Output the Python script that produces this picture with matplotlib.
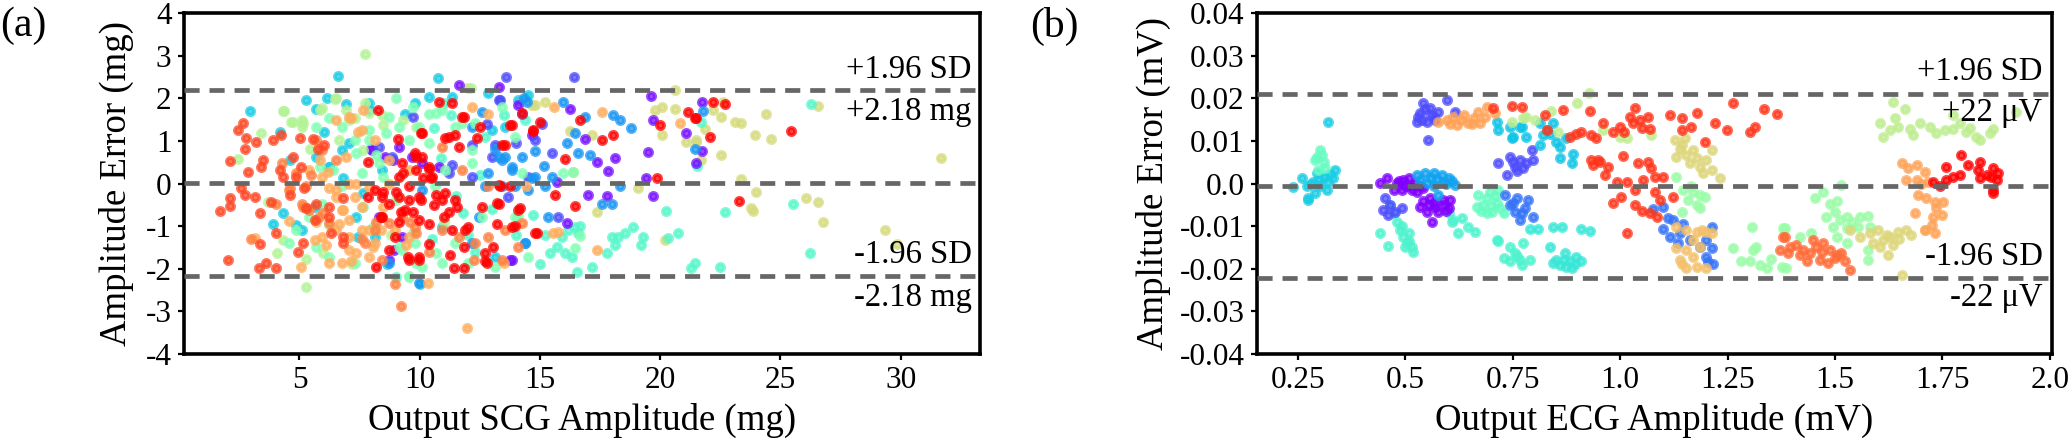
import matplotlib
matplotlib.use("Agg")
import matplotlib.pyplot as plt

plt.rcParams['font.family'] = 'serif'
plt.rcParams['font.serif'] = ['Liberation Serif', 'DejaVu Serif']

# ---------------- panel (a): SCG amplitude error (mg), one list per subject colour
a_violet = [(11.64,2.31),(13.28,2.26),(19.64,2.05),(14.11,1.84),(16.25,1.74),(14.66,1.14),(16.88,1.04),
            (18.12,0.61),(17.36,0.51),(19.50,0.75),(17.84,0.30),(17.01,-0.27),(17.77,-0.29),(19.71,-0.29),
            (19.43,0.12),(15.70,0.04),(16.11,-0.92),(13.76,-1.80),(21.09,1.19),(19.71,1.49),(21.74,1.92),
            (21.74,0.77),(21.51,0.47),(8.71,-1.80),(8.92,-1.56),(7.98,0.82),(8.88,0.55),(10.82,0.39),(13.83,-1.80),
            (8.02,0.79),(8.57,0.63),(9.13,0.86),(9.68,0.63),(10.10,0.48),(9.27,-1.25),(8.30,-0.78)]
a_indigo = [(13.60,2.51),(16.43,2.51),(13.35,1.97),(15.77,-0.78),(12.17,0.90),(11.34,0.43),(13.00,0.63),
            (15.49,0.71),(8.85,0.63),(8.30,0.86),(9.71,1.57),(12.17,0.16),(11.20,0.24),(13.69,-0.31),
            (14.80,1.02),(14.52,0.16),(13.14,0.90),(13.28,1.96),(14.25,1.64),(12.80,1.40),(15.10,1.40),(14.00,0.95)]
a_blue = [(14.32,2.01),(14.45,1.92),(15.98,1.92),(16.88,1.57),(18.05,1.61),(18.33,1.50),(18.78,1.31),
          (16.46,1.18),(16.11,0.96),(16.60,0.72),(17.08,0.68),(14.80,0.76),(15.15,0.41),(15.49,0.16),
          (13.83,0.32),(14.66,0.12),(13.97,-0.07),(15.22,-0.07),(17.57,-0.48),(17.98,-0.48),(18.33,-0.06),
          (15.35,-0.78),(12.86,0.24),(13.42,0.55),(12.45,-0.78),(14.39,-1.39),(13.56,0.63),(13.14,0.82),
          (12.17,1.33),(12.59,1.68),(21.78,1.70),(21.46,0.82),(9.96,-2.34),(8.71,-1.87),(13.28,0.63),
          (13.83,0.39),(14.25,0.63),(14.80,0.16),(12.72,-0.07),(13.42,-0.07),(14.52,-0.15),(10.10,-0.15),
          (12.17,-1.40),(14.38,-1.40)]
a_cyan = [(6.60,2.52),(2.93,1.71),(5.26,1.96),(6.14,2.00),(6.94,1.86),(4.18,1.21),(6.04,1.21),(4.59,0.55),
          (3.90,-0.94),(4.31,-0.70),(4.87,-0.97),(5.63,-0.54),(7.43,-1.25),(8.63,-1.89),(10.77,2.48),
          (7.91,1.88),(5.70,1.74),(7.08,0.94),(6.25,0.39),(6.80,0.12),(7.63,-0.23),(7.36,-0.78),(10.37,2.04),
          (11.34,2.04),(12.86,2.12),(14.11,1.96),(14.52,2.08),(13.00,1.25),(13.55,1.33),(10.93,-1.01),
          (13.14,-1.72),(10.00,-2.36),(5.67,0.63),(6.22,0.39),(6.78,0.79),(5.12,-1.09),(8.16,-1.25),
          (8.44,0.32),(7.88,1.72),(9.40,1.64),(9.82,1.88)]
a_turq = [(20.26,-0.65),(20.75,-1.17),(20.33,-1.29),(19.29,-1.25),(19.22,-1.44),(18.88,-1.01),(18.54,-1.17),
          (18.26,-1.25),(17.98,-1.25),(18.12,-1.44),(17.77,-1.62),(17.15,-1.95),(16.53,-2.07),(16.32,-1.73),
          (16.04,-1.64),(15.42,-1.64),(15.70,-1.48),(15.91,-1.25),(16.46,-1.01),(16.60,-1.17),(16.67,-0.99),
          (15.22,-1.21),(15.01,-1.89),(14.73,-0.74),(16.18,-1.09),(21.44,-1.87),(21.30,-1.99),(22.47,-1.95),
          (22.68,-0.66),(25.52,-0.48),(26.28,1.86),(26.25,-1.64),(21.71,1.45),(21.55,0.40),(9.02,-2.20),
          (11.00,1.90),(12.30,-1.60),(10.50,-1.30),(10.90,0.60),(11.50,-0.30),(12.50,0.20),(13.00,-0.60),
          (12.00,-1.20),(11.30,1.60),(12.70,1.10),(13.50,1.60),(14.40,1.50),(14.00,-1.20),(11.80,-0.70),(10.60,1.30)]
a_aqua = [(9.02,2.00),(9.71,1.80),(8.60,1.18),(7.91,1.02),(7.36,0.71),(6.39,0.32),(8.46,0.16),(9.02,-0.39),
          (7.63,-0.54),(8.05,-1.01),(9.71,-1.17),(9.16,-1.48),(9.57,-2.19),(10.68,-1.64),(9.85,-1.87),
          (10.68,1.65),(10.40,0.94),(8.19,0.67),(5.84,0.39),(5.70,1.33),(15.98,0.24),(16.39,0.28),
          (16.67,-1.23),(16.46,-1.52),(14.11,-0.74),(11.76,1.41),(12.17,0.79),(11.07,0.32),(10.37,1.64),
          (10.93,1.72),(11.48,1.33),(12.31,1.41),(13.42,1.80),(13.97,1.10),(12.17,0.47),(10.65,-0.07),
          (11.48,-1.40),(10.93,-1.87),(10.10,-1.95),(12.03,-1.87),(13.14,-1.95),(14.52,-1.72),(14.25,0.24),
          (12.59,-0.78),(13.97,-0.78),(6.22,1.53),(6.78,1.33),(7.33,1.02),(7.88,1.25),(8.71,1.57),(9.13,1.33),
          (9.54,1.02),(9.96,1.33),(8.30,0.48),(7.61,0.24),(6.78,-0.07),(5.95,-0.47),(5.39,-0.78),(4.84,-1.09),
          (4.56,-1.40),(5.67,-1.48),(6.22,-1.72),(7.33,-1.87),(9.27,-1.56),(9.82,-1.40),(9.54,-2.18)]
a_ygreen = [(4.32,1.71),(6.46,1.98),(3.39,1.19),(2.45,0.57),(5.14,1.41),(4.73,1.45),(5.42,0.82),(5.28,-2.42),
            (4.08,-1.62),(5.28,-1.78),(5.97,-1.64),(6.25,-0.97),(4.32,-1.33),(3.69,-0.43),(5.84,1.72),
            (7.08,1.49),(7.91,1.65),(6.66,1.02),(7.63,0.79),(8.46,1.37),(9.29,1.49),(9.85,1.33),(7.72,3.05),
            (12.14,2.24),(7.20,-1.90),(8.80,-1.20),(11.00,-0.90),(4.36,1.70),(4.63,1.45),(5.12,1.49),
            (5.12,1.33),(5.95,1.76),(6.50,2.00),(6.92,1.72),(7.33,1.53),(7.74,1.88),(8.44,1.61)]
a_khaki = [(20.61,2.19),(20.06,1.80),(19.78,1.72),(20.61,1.75),(21.09,0.98),(21.51,1.02),(20.08,1.14),
           (19.09,-0.11),(17.36,-0.66),(20.19,-1.33),(17.15,1.14),(16.25,1.24),(16.39,0.26),(15.22,1.92),
           (14.80,1.84),(22.61,1.92),(22.20,1.72),(22.54,1.55),(23.10,1.45),(23.35,1.43),(24.41,1.62),
           (23.93,1.14),(24.62,1.04),(22.54,0.68),(21.69,0.55),(31.67,0.61),(21.85,1.27),(23.35,0.10),
           (24.00,-0.19),(23.79,-0.58),(23.86,-0.64),(26.07,-0.33),(26.58,-0.43),(26.76,-0.91),(29.35,-1.08),
           (29.85,-1.41),(26.58,1.83),(21.51,0.98),(12.03,2.23),(14.66,1.84)]
a_lorange = [(7.15,1.53),(7.43,1.21),(7.63,1.72),(6.53,1.49),(5.84,0.55),(6.18,0.28),(6.94,0.63),(6.25,-0.11),
             (6.53,-0.31),(6.80,-0.62),(7.08,-0.86),(6.66,-0.94),(5.63,-1.33),(6.11,-1.44),(6.25,-1.86),
             (7.15,-1.83),(7.36,-1.64),(8.05,-1.48),(3.14,-1.29),(5.05,-1.95),(4.56,-0.89),(5.70,-0.90),
             (7.91,-1.09),(8.40,-1.09),(9.43,-1.44),(8.46,-0.54),(10.33,-2.34),(11.98,-3.38),(17.57,1.67),
             (20.82,1.43),(17.36,-1.56),(14.41,-0.07),(15.56,-1.15),(15.77,-1.13),(15.60,1.80),(13.49,-1.87),
             (7.36,0.00),(7.91,-0.08),(8.74,0.55),(12.86,1.64),(12.17,1.80),(5.39,0.32),(5.95,0.16),(6.50,-0.15),
             (7.05,0.00),(7.33,-0.31),(6.78,-0.62),(6.50,-1.09),(7.05,-1.25),(7.61,-1.09),(8.16,-1.40),
             (7.88,-1.72),(7.05,-1.56),(6.78,-1.87),(5.95,-1.25),(7.61,-0.54),(8.44,-0.78),(8.99,-1.09),
             (9.54,-1.25),(8.71,0.00),(9.54,0.32),(8.16,1.02),(7.61,1.25),(7.05,1.57)]
a_orange = [(9.21,-2.87),(8.98,-2.36),(5.31,-0.58),(9.85,-1.17),(11.76,0.32),(10.93,-1.09),(11.62,-1.25),
            (12.31,-1.40),(12.86,-1.25),(13.55,-1.09),(14.11,-1.48),(14.25,-0.93),(12.24,-1.80),(13.42,-1.80),
            (12.86,-0.07),(10.93,0.86),(5.14,-0.54),(4.60,-0.10),(5.50,0.20),(6.00,-0.70),(7.60,-1.30),
            (8.20,-0.90),(9.60,-0.90),(10.40,-1.60),(3.00,-1.30),(5.12,-0.47),(5.39,-0.62),(5.81,-0.78),
            (6.22,-0.93),(5.26,-0.07),(4.84,0.24),(4.56,-0.15),(4.01,-0.47),(4.29,0.48),(5.95,0.79),(6.50,0.55),
            (5.67,1.02),(8.16,-1.09),(8.71,-0.93),(9.27,-0.78),(9.82,-1.01),(7.74,-1.40),(8.44,-1.79)]
a_oranred = [(2.66,1.41),(2.45,1.25),(2.79,1.06),(3.21,0.98),(2.72,0.80),(2.10,0.53),(3.49,0.55),(2.86,0.28),
             (3.42,0.39),(4.18,0.32),(3.90,1.02),(4.25,1.14),(5.01,1.06),(5.56,1.04),(6.04,0.90),(2.59,-0.11),
             (2.72,-0.27),(3.14,-0.31),(2.10,-0.35),(1.69,-0.64),(2.10,-0.53),(3.35,-0.70),(3.83,-0.43),
             (4.59,-0.27),(5.21,-0.11),(5.28,-0.58),(5.70,-0.47),(6.25,-0.54),(3.35,-1.42),(4.04,-1.17),
             (2.03,-1.80),(3.32,-1.99),(3.60,-1.87),(4.01,-1.99),(4.94,-1.60),(5.14,-1.39),(6.80,-1.40),
             (6.83,-1.25),(6.32,-1.17),(5.77,0.82),(4.87,0.16),(6.80,-0.33),(6.25,-0.78),(5.63,-0.86),
             (4.31,0.16),(4.73,0.63),(5.08,0.39)]
a_red = [(8.26,1.72),(9.09,1.04),(10.05,1.18),(7.84,0.51),(9.29,0.24),(9.85,0.32),(10.40,0.35),(10.12,0.12),
         (10.47,0.12),(8.46,-0.19),(9.02,-0.19),(9.57,-0.39),(10.05,-0.39),(10.61,-0.50),(8.40,-0.78),
         (9.16,-0.90),(9.99,-0.86),(10.40,-0.94),(7.84,-0.31),(10.68,-0.27),(8.74,-1.56),(9.50,-1.72),
         (9.99,-1.80),(8.19,-1.97),(10.40,-1.41),(9.22,-0.66),(9.71,-0.66),(9.85,0.63),(11.34,1.88),
         (11.83,1.57),(12.52,1.33),(11.07,1.06),(11.62,0.85),(14.25,1.65),(13.76,1.37),(15.01,1.45),
         (14.73,1.24),(16.67,1.49),(17.57,1.02),(18.05,1.14),(16.04,0.57),(13.56,0.90),(13.35,-0.06),
         (13.76,-0.06),(15.63,-0.27),(16.46,-0.52),(19.85,0.12),(11.07,-0.23),(11.55,-0.54),(11.00,-0.78),
         (13.28,-0.48),(14.18,-0.58),(12.03,-1.01),(13.21,-0.95),(13.97,-1.00),(11.34,-1.09),(14.87,-1.17),
         (13.07,-1.48),(11.83,-1.48),(11.27,-1.68),(12.73,-1.64),(11.41,-1.99),(11.83,-1.99),(12.80,-1.86),
         (22.20,1.92),(22.71,1.86),(21.51,1.53),(22.06,1.08),(25.45,1.23),(23.26,-0.40),(21.16,1.68),
         (21.44,1.53),(19.99,1.37),(10.10,0.63),(10.37,0.39),(10.51,0.16),(10.93,-0.39),(11.20,-0.66),
         (11.48,-0.39),(11.89,-1.09),(12.59,-0.54),(13.21,-0.46),(13.28,-0.04),(13.83,-1.01),(12.72,-1.83),
         (14.11,-0.62),(14.80,-1.17),(11.20,1.10),(11.48,1.14),(12.38,1.06),(13.42,0.90),(13.83,1.37),
         (14.73,1.25),(11.76,1.57),(10.79,1.92),(10.10,1.18),(8.16,-0.15),(8.44,-0.31),(8.71,-0.47),
         (9.13,-0.31),(9.40,-0.62),(9.54,-0.07),(9.96,-0.31),(9.27,0.48),(9.82,0.71),(8.99,-1.25),
         (9.54,-1.79),(9.96,-1.72),(8.44,-0.78),(9.13,0.16)]
a_groups = [(a_khaki, 0.67), (a_turq, 0.42), (a_cyan, 0.30), (a_violet, 0.02), (a_indigo, 0.10),
            (a_blue, 0.20), (a_ygreen, 0.60), (a_aqua, 0.50), (a_lorange, 0.76), (a_orange, 0.83),
            (a_oranred, 0.91), (a_red, 1.0)]
a_limits = [2.20, 0.02, -2.16]
a_xticks = [5, 10, 15, 20, 25, 30]
a_yticks = [-4, -3, -2, -1, 0, 1, 2, 3, 4]

# ---------------- panel (b): ECG amplitude error (mV)
b_cyan0 = [(0.240,-0.0009),(0.259,0.0012),(0.271,-0.0007),(0.275,-0.0035),(0.286,0.0004),(0.302,-0.0007),
           (0.310,0.0016),(0.321,0.0004),(0.333,0.0012),(0.337,0.0032),(0.290,-0.0023),(0.318,-0.0015),
           (0.320,0.0145),(0.294,0.0024),(0.273,-0.0039),(0.300,0.0010),(0.280,0.0000),(0.325,0.0022)]
b_aqua = [(0.302,0.0079),(0.294,0.0063),(0.310,0.0051),(0.290,0.0055),(0.314,0.0036),(0.298,0.0032),
          (0.306,0.0067),(0.670,-0.0027),(0.682,-0.0050),(0.698,-0.0019),(0.701,-0.0066),(0.713,-0.0046),
          (0.729,-0.0070),(0.690,-0.0070),(0.717,-0.0015),(0.666,-0.0054),(0.690,-0.0035),(0.708,-0.0030),
          (0.720,-0.0058),(0.676,-0.0064),(0.700,-0.0052)]
b_purple = [(0.442,0.0001),(0.457,0.0012),(0.480,0.0001),(0.496,0.0008),(0.511,-0.0007),(0.492,-0.0015),
            (0.527,-0.0019),(0.542,-0.0011),(0.508,0.0012),(0.523,0.0001),(0.473,-0.0015),(0.500,-0.0005),
            (0.485,0.0005),(0.515,-0.0015),(0.535,-0.0005),(0.535,-0.0054),(0.550,-0.0066),(0.566,-0.0046),
            (0.589,-0.0038),(0.601,-0.0058),(0.577,-0.0066),(0.558,-0.0035),(0.562,-0.0090),(0.542,-0.0042),
            (0.604,-0.0038),(0.570,-0.0055),(0.590,-0.0050),(0.555,-0.0050),(0.595,-0.0065)]
b_indigo = [(0.542,0.0188),(0.558,0.0176),(0.535,0.0165),(0.527,0.0145),(0.550,0.0145),(0.566,0.0157),
            (0.577,0.0168),(0.597,0.0197),(0.554,0.0102),(0.616,0.0168),(0.530,0.0155),(0.545,0.0175),
            (0.560,0.0160),(0.540,0.0150),(0.570,0.0150),(0.453,-0.0035),(0.449,-0.0062),(0.461,-0.0074),
            (0.476,-0.0066),(0.492,-0.0058),(0.465,-0.0050),(0.717,0.0047),(0.736,0.0020),(0.756,0.0039),
            (0.767,0.0055),(0.744,0.0063),(0.782,0.0047),(0.794,0.0079),(0.774,0.0036),(0.798,0.0055),
            (0.760,0.0030),(0.750,0.0050)]
b_blue = [(0.527,0.0020),(0.546,0.0024),(0.566,0.0024),(0.585,0.0020),(0.601,0.0012),(0.616,-0.0004),
          (0.550,0.0001),(0.577,-0.0027),(0.566,-0.0007),(0.589,0.0004),(0.535,0.0008),(0.560,0.0012),
          (0.575,0.0010),(0.595,0.0000),(0.610,0.0005)]
b_blue2 = [(0.732,-0.0027),(0.744,-0.0050),(0.756,-0.0066),(0.767,-0.0086),(0.760,-0.0035),(0.778,-0.0058),
           (0.798,-0.0078),(0.786,-0.0039),(0.771,-0.0070),(0.750,-0.0045),(1.077,-0.0059),(1.100,-0.0055),
           (1.112,-0.0082),(1.123,-0.0086),(1.100,-0.0106),(1.139,-0.0117),(1.116,-0.0125),(1.147,-0.0094),
           (1.162,-0.0133),(1.201,-0.0133),(1.213,-0.0152),(1.201,-0.0172),(1.217,-0.0188),(1.186,-0.0148),
           (1.135,-0.0140),(1.213,-0.0102),(1.205,-0.0185)]
b_cyan = [(0.713,0.0145),(0.717,0.0125),(0.752,0.0110),(0.782,0.0110),(0.813,0.0090),(0.836,0.0117),
          (0.852,0.0098),(0.860,0.0086),(0.860,0.0061),(0.891,0.0069),(0.889,0.0047),(0.821,0.0114),
          (0.844,0.0141),(0.813,0.0141),(0.771,0.0133),(0.875,0.0106),(0.829,0.0125),(0.748,0.0106),
          (0.767,0.0133),(0.744,0.0133)]
b_turq = [(0.465,-0.0050),(0.473,-0.0070),(0.480,-0.0090),(0.488,-0.0109),(0.496,-0.0125),(0.504,-0.0140),
          (0.515,-0.0148),(0.519,-0.0160),(0.500,-0.0148),(0.508,-0.0117),(0.442,-0.0115),(0.461,-0.0147),
          (0.492,-0.0100),(0.510,-0.0135),(0.601,-0.0070),(0.612,-0.0086),(0.632,-0.0082),(0.624,-0.0117),
          (0.647,-0.0101),(0.663,-0.0113),(0.608,-0.0090),(0.717,-0.0136),(0.729,-0.0175),(0.744,-0.0148),
          (0.756,-0.0164),(0.767,-0.0179),(0.744,-0.0183),(0.774,-0.0140),(0.790,-0.0179),(0.771,-0.0191),
          (0.760,-0.0170),(0.713,-0.0133)]
b_cyanline = [(0.790,-0.0107),(0.809,-0.0106),(0.844,-0.0102),(0.864,-0.0102),(0.910,-0.0106),(0.929,-0.0111),
              (0.836,-0.0150),(0.852,-0.0179),(0.871,-0.0164),(0.883,-0.0183),(0.898,-0.0172),(0.910,-0.0183),
              (0.860,-0.0191),(0.887,-0.0199),(0.844,-0.0187),(0.870,-0.0180),(0.895,-0.0190),(0.875,-0.0195)]
b_lgreen = [(1.147,-0.0015),(1.166,-0.0007),(1.185,-0.0027),(1.197,-0.0031),(1.158,-0.0039),(1.178,-0.0050),
            (1.185,-0.0058),(1.143,-0.0066),(1.131,0.0016),(1.170,-0.0020),(1.515,-0.0003),(1.473,-0.0019),
            (1.453,-0.0035),(1.488,-0.0047),(1.500,-0.0066),(1.480,-0.0078),(1.511,-0.0086),(1.527,-0.0078),
            (1.558,-0.0078),(1.577,-0.0076),(1.496,-0.0101),(1.527,-0.0105),(1.554,-0.0101),(1.581,-0.0101),
            (1.504,-0.0125),(1.527,-0.0140),(1.577,-0.0156),(1.577,-0.0179),(1.445,-0.0117),(1.418,-0.0125),
            (1.383,-0.0105),(1.387,-0.0199),(1.306,-0.0102),(1.263,-0.0152),(1.282,-0.0183),(1.302,-0.0183),
            (1.310,-0.0156),(1.325,-0.0191),(1.341,-0.0199),(1.352,-0.0176),(1.379,-0.0105),(1.376,-0.0195),
            (1.317,-0.0148),(1.505,-0.0040),(1.540,-0.0090)]
b_ygreen = [(0.782,0.0157),(0.801,0.0149),(0.840,0.0169),(0.899,0.0188),(0.927,0.0212),(0.856,0.0121),
            (0.999,0.0110),(1.015,0.0106),(1.073,0.0114),(0.748,0.0145),(0.775,0.0153),(0.960,0.0125),
            (1.635,0.0192),(1.663,0.0174),(1.604,0.0141),(1.612,0.0110),(1.628,0.0125),(1.639,0.0153),
            (1.647,0.0133),(1.674,0.0129),(1.682,0.0114),(1.697,0.0141),(1.721,0.0133),(1.736,0.0118),
            (1.775,0.0129),(1.790,0.0141),(1.806,0.0122),(1.829,0.0110),(1.837,0.0102),(1.860,0.0118),
            (1.868,0.0129),(1.922,0.0168),(1.775,0.0161),(1.756,0.0125),(1.815,0.0130)]
b_khaki = [(1.127,0.0102),(1.139,0.0082),(1.131,0.0063),(1.154,0.0067),(1.170,0.0079),(1.162,0.0047),
           (1.185,0.0039),(1.201,0.0055),(1.213,0.0032),(1.232,0.0012),(1.193,0.0024),(1.151,0.0106),
           (1.213,0.0079),(1.145,0.0090),(1.180,0.0060),(1.535,-0.0109),(1.558,-0.0125),(1.581,-0.0117),
           (1.600,-0.0109),(1.612,-0.0133),(1.628,-0.0125),(1.647,-0.0113),(1.666,-0.0109),(1.678,-0.0121),
           (1.635,-0.0145),(1.604,-0.0148),(1.624,-0.0168),(1.709,-0.0109),(1.655,-0.0215),(1.589,-0.0140),
           (1.620,-0.0120),(1.650,-0.0130)]
b_tan = [(1.131,-0.0102),(1.154,-0.0110),(1.178,-0.0113),(1.201,-0.0113),(1.213,-0.0117),(1.170,-0.0133),
         (1.186,-0.0148),(1.154,-0.0156),(1.139,-0.0179),(1.154,-0.0199),(1.178,-0.0195),(1.201,-0.0199),
         (1.170,-0.0172),(1.131,-0.0152),(1.190,-0.0110),(1.145,-0.0190)]
b_orange = [(0.577,0.0145),(0.597,0.0149),(0.620,0.0137),(0.636,0.0161),(0.659,0.0153),(0.674,0.0141),
            (0.690,0.0180),(0.709,0.0165),(0.670,0.0168),(0.612,0.0157),(0.647,0.0141),(0.605,0.0140),
            (0.630,0.0150),(0.655,0.0140),(0.685,0.0155),(1.655,0.0047),(1.670,0.0036),(1.690,0.0043),
            (1.709,0.0027),(1.666,0.0008),(1.690,0.0008),(1.717,0.0004),(1.694,-0.0027),(1.713,-0.0035),
            (1.732,-0.0043),(1.736,-0.0058),(1.752,-0.0043),(1.686,-0.0070),(1.728,-0.0078),(1.748,-0.0074),
            (1.725,-0.0098),(1.733,-0.0117),(1.709,-0.0109),(1.700,0.0000)]
b_oranred = [(1.383,-0.0125),(1.395,-0.0148),(1.410,-0.0144),(1.426,-0.0156),(1.442,-0.0164),(1.457,-0.0148),
             (1.473,-0.0140),(1.488,-0.0156),(1.504,-0.0168),(1.523,-0.0183),(1.535,-0.0203),(1.465,-0.0179),
             (1.434,-0.0183),(1.418,-0.0168),(1.484,-0.0187),(1.515,-0.0164),(1.449,-0.0133),(1.379,-0.0125),
             (1.372,-0.0156),(1.391,-0.0164),(1.470,-0.0160),(1.500,-0.0175)]
b_redor = [(0.910,0.0121),(0.933,0.0113),(0.960,0.0141),(0.999,0.0133),(1.022,0.0157),(1.046,0.0149),
           (1.065,0.0157),(1.069,0.0129),(0.883,0.0110),(0.898,0.0117),(0.945,0.0106),(0.984,0.0121),
           (1.030,0.0141),(1.034,0.0176),(0.867,0.0173),(0.929,0.0169),(0.705,0.0176),(0.748,0.0182),
           (0.771,0.0180),(0.825,0.0160),(0.829,0.0125),(1.116,0.0161),(1.143,0.0153),(1.178,0.0165),
           (1.166,0.0133),(1.143,0.0125),(1.220,0.0141),(1.248,0.0125),(1.262,0.0190),(1.302,0.0121),
           (1.313,0.0133),(1.334,0.0174),(1.365,0.0163),(1.197,0.0098),(0.933,0.0055),(0.953,0.0051),
           (0.972,0.0038),(0.964,0.0020),(0.937,0.0043),(1.007,0.0065),(1.042,0.0047),(1.065,0.0051),
           (1.073,0.0036),(1.081,0.0016),(1.100,0.0016),(1.054,0.0008),(0.992,0.0004),(1.015,0.0004),
           (1.034,-0.0015),(1.003,-0.0031),(0.984,-0.0046),(1.034,-0.0050),(1.050,-0.0064),(1.069,-0.0070),
           (1.085,-0.0078),(1.081,-0.0021),(1.123,-0.0031),(1.092,-0.0039),(1.015,-0.0117),(0.949,0.0055),
           (1.010,0.0120),(1.050,0.0130)]
b_red = [(1.794,0.0067),(1.759,0.0039),(1.790,0.0020),(1.810,0.0043),(1.837,0.0051),(1.833,0.0032),
         (1.868,0.0036),(1.864,0.0016),(1.876,0.0008),(1.868,-0.0015),(1.728,0.0004),(1.744,-0.0007),
         (1.759,0.0008),(1.853,0.0020),(1.837,0.0012),(1.868,-0.0023),(1.775,0.0015),(1.880,0.0025)]
b_groups = [(b_cyan0, 0.30), (b_aqua, 0.45), (b_turq, 0.40), (b_cyanline, 0.36), (b_purple, 0.0),
            (b_indigo, 0.10), (b_blue, 0.22), (b_blue2, 0.15), (b_cyan, 0.28), (b_lgreen, 0.55),
            (b_ygreen, 0.62), (b_khaki, 0.68), (b_tan, 0.73), (b_orange, 0.78), (b_oranred, 0.86),
            (b_redor, 0.93), (b_red, 1.0)]
b_limits = [0.0209, -0.0006, -0.0222]
b_xticks = [0.25, 0.5, 0.75, 1.0, 1.25, 1.5, 1.75, 2.0]
b_xlabels = ['0.25', '0.5', '0.75', '1.0', '1.25', '1.5', '1.75', '2.0']
b_yticks = [-0.04, -0.03, -0.02, -0.01, 0.0, 0.01, 0.02, 0.03, 0.04]
b_ylabels = ['-0.04', '-0.03', '-0.02', '-0.01', '0.0', '0.01', '0.02', '0.03', '0.04']

cmap = plt.get_cmap('rainbow')
fig = plt.figure(figsize=(20.7, 4.38), dpi=100)
ax1 = fig.add_axes([0.0889, 0.1918, 0.3845, 0.7785])
ax2 = fig.add_axes([0.6072, 0.1918, 0.3841, 0.7785])


def draw(ax, groups, limits):
    for pts, v in groups:
        xs = [p[0] for p in pts]
        ys = [p[1] for p in pts]
        ax.scatter(xs, ys, s=28, color=cmap(v), edgecolors=cmap(v), linewidths=2.6, alpha=0.75, zorder=2)
    for y in limits:
        ax.axhline(y, color='#666666', lw=3.4, ls=(0, (3.2, 2.1)), zorder=3)
    for s in ax.spines.values():
        s.set_linewidth(2.6)
    ax.tick_params(direction='out', length=4, width=1.6, labelsize=22.5, pad=5)


draw(ax1, a_groups, a_limits)
ax1.set_xlim(0.2, 33.3)
ax1.set_ylim(-4, 4)
ax1.set_xticks(a_xticks)
ax1.set_yticks(a_yticks)
ax1.set_yticklabels([str(t) for t in a_yticks])
ax1.set_xlabel('Output SCG Amplitude (mg)', fontsize=26.5, labelpad=5)
ax1.set_ylabel('Amplitude Error (mg)', fontsize=26.5, labelpad=8)
ax1.text(32.95, 2.66, '+1.96 SD', fontsize=23.5, ha='right', va='center', zorder=5)
ax1.text(32.95, 1.68, '+2.18 mg', fontsize=23.5, ha='right', va='center', zorder=5)
ax1.text(32.95, -1.68, '-1.96 SD', fontsize=23.5, ha='right', va='center', zorder=5)
ax1.text(32.95, -2.69, '-2.18 mg', fontsize=23.5, ha='right', va='center', zorder=5)

draw(ax2, b_groups, b_limits)
ax2.set_xlim(0.155, 2.005)
ax2.set_ylim(-0.04, 0.04)
ax2.set_xticks(b_xticks)
ax2.set_xticklabels(b_xlabels)
ax2.set_yticks(b_yticks)
ax2.set_yticklabels(b_ylabels)
ax2.set_xlabel('Output ECG Amplitude (mV)', fontsize=26.5, labelpad=5)
ax2.set_ylabel('Amplitude Error (mV)', fontsize=26.5, labelpad=6)
ax2.text(1.983, 0.0262, '+1.96 SD', fontsize=23.5, ha='right', va='center', zorder=5)
ax2.text(1.983, 0.0165, '+22 \u03bcV', fontsize=23.5, ha='right', va='center', zorder=5)
ax2.text(1.983, -0.0172, '-1.96 SD', fontsize=23.5, ha='right', va='center', zorder=5)
ax2.text(1.983, -0.0269, '-22 \u03bcV', fontsize=23.5, ha='right', va='center', zorder=5)

fig.text(0.0, 0.985, '(a)', fontsize=30, ha='left', va='top')
fig.text(0.4976, 0.985, '(b)', fontsize=30, ha='left', va='top')

fig.savefig('out.png', dpi=100)
